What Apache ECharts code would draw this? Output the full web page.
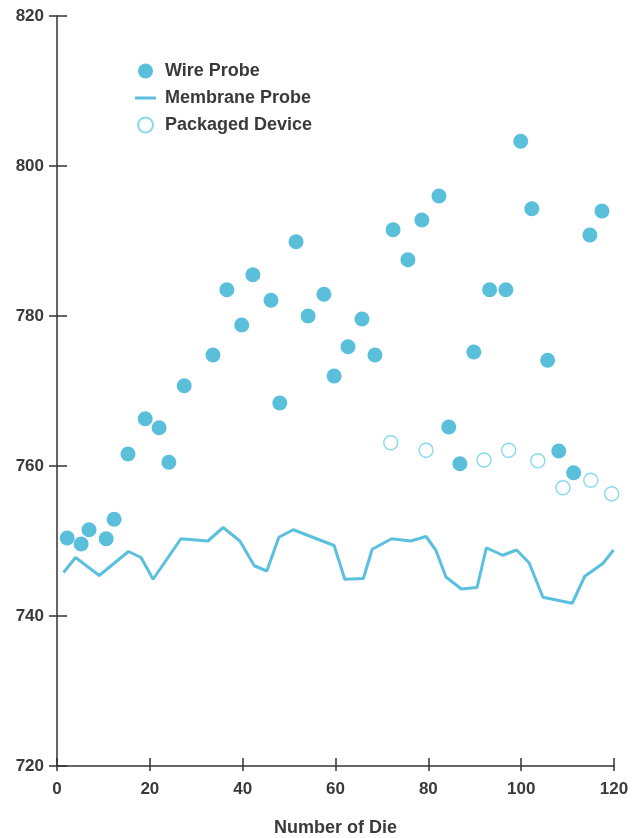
<!DOCTYPE html>
<html>
<head>
<meta charset="utf-8">
<script src="https://cdn.jsdelivr.net/npm/echarts@6/dist/echarts.min.js"></script>
<style>
html,body{margin:0;padding:0;background:#fff;}
#chart{width:634px;height:838px;}
</style>
</head>
<body>
<div id="chart"></div>
<script>
// Wire Probe (filled circles)
const wireX = [2.2, 5.2, 6.9, 10.6, 12.3, 15.3, 19.0, 22.0, 24.1, 27.4, 33.6, 36.6, 39.8, 42.2, 46.1, 48.0, 51.5, 54.1, 57.5, 59.7, 62.7, 65.7, 68.5, 72.4, 75.6, 78.6, 82.3, 84.4, 86.8, 89.8, 93.2, 96.7, 99.9, 102.3, 105.7, 108.1, 111.3, 114.8, 117.4];
const wireY = [750.4, 749.6, 751.5, 750.3, 752.9, 761.6, 766.3, 765.1, 760.5, 770.7, 774.8, 783.5, 778.8, 785.5, 782.1, 768.4, 789.9, 780.0, 782.9, 772.0, 775.9, 779.6, 774.8, 791.5, 787.5, 792.8, 796.0, 765.2, 760.3, 775.2, 783.5, 783.5, 803.3, 794.3, 774.1, 762.0, 759.1, 790.8, 794.0];
// Membrane Probe (line)
const memX = [1.4, 4.0, 9.1, 15.4, 18.1, 20.7, 26.7, 32.5, 35.8, 39.4, 42.5, 45.2, 47.8, 50.9, 59.7, 62.0, 66.0, 67.9, 72.1, 76.2, 79.5, 81.6, 83.8, 87.1, 90.5, 92.5, 96.0, 99.0, 101.7, 104.7, 111.0, 113.7, 117.6, 119.9];
const memY = [745.8, 747.8, 745.4, 748.6, 747.8, 744.9, 750.3, 750.0, 751.8, 750.0, 746.7, 746.0, 750.5, 751.5, 749.4, 744.9, 745.0, 748.9, 750.3, 750.0, 750.6, 748.8, 745.2, 743.6, 743.8, 749.1, 748.1, 748.8, 747.1, 742.5, 741.7, 745.3, 747.0, 748.8];
// Packaged Device (open circles)
const pkgX = [71.9, 79.5, 92.0, 97.3, 103.6, 109.0, 115.0, 119.5];
const pkgY = [763.1, 762.1, 760.8, 762.1, 760.7, 757.1, 758.1, 756.3];
// Axis ticks
const xTicks = {min: 0, max: 120, interval: 20};
const yTicks = {min: 720, max: 820, interval: 20};
const seriesNames = ['Wire Probe', 'Membrane Probe', 'Packaged Device'];
const xTitle = 'Number of Die';

const zip = (a, b) => a.map((v, i) => [v, b[i]]);
const textColor = '#3a3a3a';
const axisColor = '#333';
const font = 'Liberation Sans, Arial, sans-serif';

const chart = echarts.init(document.getElementById('chart'), null, {renderer: 'canvas'});
chart.setOption({
  backgroundColor: '#ffffff',
  animation: false,
  grid: {left: 57, right: 20, top: 16, bottom: 72, containLabel: false, outerBoundsMode: 'none'},
  legend: {
    orient: 'vertical', left: 130, top: 57,
    itemWidth: 21, itemHeight: 15, itemGap: 9,
    textStyle: {fontFamily: font, fontSize: 18, fontWeight: 'bold', color: textColor, padding: [0, 0, 0, 4]},
    data: [
      {name: seriesNames[0], icon: 'circle'},
      {name: seriesNames[1], icon: 'path://M0,0L21,0L21,3L0,3Z'},
      {name: seriesNames[2], icon: 'circle'}
    ]
  },
  xAxis: [{
    type: 'value', min: xTicks.min, max: xTicks.max, interval: xTicks.interval,
    position: 'bottom',
    name: xTitle, nameLocation: 'middle', nameGap: 53,
    nameTextStyle: {fontFamily: font, fontSize: 18, fontWeight: 'bold', color: textColor},
    axisLine: {show: true, lineStyle: {color: axisColor, width: 1.5}},
    axisTick: {show: true, inside: false, length: 5, lineStyle: {color: axisColor, width: 1.5}},
    axisLabel: {fontFamily: font, fontSize: 17, fontWeight: 'bold', color: textColor, margin: 15},
    splitLine: {show: false}
  }, {
    type: 'value', min: xTicks.min, max: xTicks.max, interval: xTicks.interval,
    position: 'bottom', gridIndex: 0,
    axisLine: {show: false},
    axisTick: {show: true, inside: true, length: 8, lineStyle: {color: axisColor, width: 1.5}},
    axisLabel: {show: false},
    splitLine: {show: false}
  }],
  yAxis: [{
    type: 'value', min: yTicks.min, max: yTicks.max, interval: yTicks.interval,
    position: 'left',
    axisLine: {show: true, lineStyle: {color: axisColor, width: 1.5}},
    axisTick: {show: true, inside: false, length: 8, lineStyle: {color: axisColor, width: 1.5}},
    axisLabel: {fontFamily: font, fontSize: 17, fontWeight: 'bold', color: textColor, margin: 13},
    splitLine: {show: false}
  }, {
    type: 'value', min: yTicks.min, max: yTicks.max, interval: yTicks.interval,
    position: 'left', gridIndex: 0,
    axisLine: {show: false},
    axisTick: {show: true, inside: true, length: 10, lineStyle: {color: axisColor, width: 1.5}},
    axisLabel: {show: false},
    splitLine: {show: false}
  }],
  series: [{
    name: seriesNames[0], type: 'scatter', xAxisIndex: 0, yAxisIndex: 0,
    symbol: 'circle', symbolSize: 15,
    itemStyle: {color: '#5abfdb', opacity: 1},
    data: zip(wireX, wireY), z: 3
  }, {
    name: seriesNames[1], type: 'line', xAxisIndex: 0, yAxisIndex: 0,
    symbol: 'none', showSymbol: false, smooth: false,
    lineStyle: {color: '#5bc0dd', width: 3},
    itemStyle: {color: '#5bc0dd'},
    data: zip(memX, memY), z: 2
  }, {
    name: seriesNames[2], type: 'scatter', xAxisIndex: 0, yAxisIndex: 0,
    symbol: 'circle', symbolSize: 14,
    itemStyle: {color: '#ffffff', borderColor: '#6cd0ea', borderWidth: 1.4},
    data: zip(pkgX, pkgY), z: 3
  }]
});
</script>
</body>
</html>
